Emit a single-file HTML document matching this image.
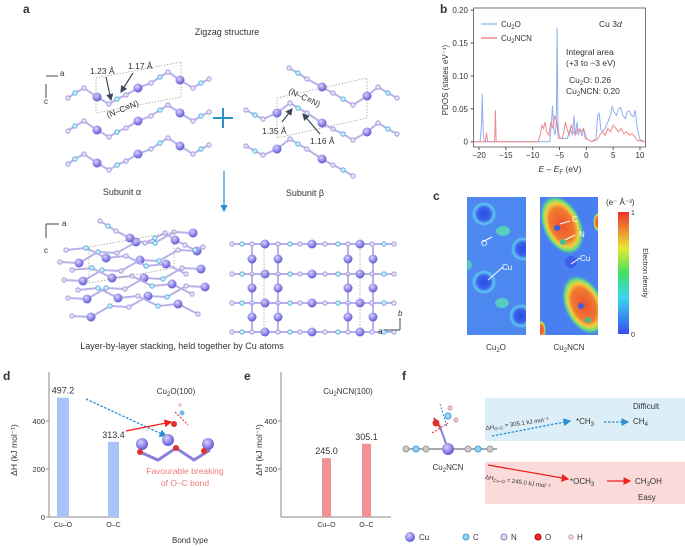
<!DOCTYPE html>
<html><head><meta charset="utf-8">
<style>
body{margin:0;background:#fff;font-family:"Liberation Sans",sans-serif;}
svg{display:block}
text{font-family:"Liberation Sans",sans-serif;fill:#333}
</style></head>
<body>
<svg id="fig" width="685" height="546" viewBox="0 0 685 546">
<defs>
<radialGradient id="cuG" cx="40%" cy="35%" r="60%"><stop offset="0" stop-color="#d8d4ff"/><stop offset="1" stop-color="#6a5fd8"/></radialGradient>
<radialGradient id="ring" cx="50%" cy="50%" r="50%"><stop offset="0" stop-color="#2a4be0"/><stop offset="0.5" stop-color="#3a62ec"/><stop offset="0.78" stop-color="#60c8f0"/><stop offset="1" stop-color="#4a88f0" stop-opacity="0"/></radialGradient>
<radialGradient id="blob" cx="50%" cy="50%" r="50%"><stop offset="0" stop-color="#f05030"/><stop offset="0.55" stop-color="#f07a30"/><stop offset="0.72" stop-color="#f0d040"/><stop offset="0.85" stop-color="#60e080"/><stop offset="1" stop-color="#4a80f0" stop-opacity="0"/></radialGradient>
<linearGradient id="cbar" x1="0" y1="1" x2="0" y2="0"><stop offset="0" stop-color="#3a4cf0"/><stop offset="0.3" stop-color="#38d8f0"/><stop offset="0.5" stop-color="#40e060"/><stop offset="0.7" stop-color="#e8e830"/><stop offset="1" stop-color="#f03030"/></linearGradient>
<clipPath id="c1"><rect x="467" y="197" width="59" height="138"/></clipPath>
<clipPath id="c2"><rect x="540" y="197" width="58" height="138"/></clipPath>
<marker id="ab" markerWidth="6" markerHeight="6" refX="5" refY="3" orient="auto"><path d="M0,0L6,3L0,6z" fill="#2b8fd0"/></marker>
<marker id="ar" markerWidth="6" markerHeight="6" refX="5" refY="3" orient="auto"><path d="M0,0L6,3L0,6z" fill="#f02020"/></marker>
<marker id="ak" markerWidth="6" markerHeight="6" refX="5" refY="3" orient="auto"><path d="M0,0L6,3L0,6z" fill="#3a4a5a"/></marker>
</defs>

<text x="23" y="13" font-weight="bold" font-size="12" fill="#000">a</text>
<text x="440" y="13" font-weight="bold" font-size="12" fill="#000">b</text>
<text x="433" y="200" font-weight="bold" font-size="12" fill="#000">c</text>
<text x="3" y="380" font-weight="bold" font-size="12" fill="#000">d</text>
<text x="244" y="380" font-weight="bold" font-size="12" fill="#000">e</text>
<text x="402" y="380" font-weight="bold" font-size="12" fill="#000">f</text>

<g>
<text x="227" y="35" font-size="9" text-anchor="middle">Zigzag structure</text>
<text x="122" y="195" font-size="9" text-anchor="middle">Subunit α</text>
<text x="305" y="196" font-size="9" text-anchor="middle">Subunit β</text>
<text x="182" y="349" font-size="9" text-anchor="middle">Layer-by-layer stacking, held together by Cu atoms</text>
<g stroke="#2b8fd0" stroke-width="2"><line x1="213" y1="118" x2="233" y2="118"/><line x1="223" y1="108" x2="223" y2="128"/></g>
<line x1="224" y1="171" x2="224" y2="211" stroke="#2b8fd0" stroke-width="1.2" marker-end="url(#ab)"/>
<g id="mol"></g>
<g stroke="#999" stroke-dasharray="1.5,1.5" fill="none" stroke-width="0.7">
<path d="M96,78L181,62L181,97L96,113Z"/><path d="M277,98L367,78L367,118L277,138Z"/>
<path d="M89,247L174,232L174,268L89,283Z"/><path d="M264,246V335M360,246V335"/>
</g>
<g font-size="8.5">
<text x="90" y="74">1.23 Å</text><text x="128" y="69">1.17 Å</text>
<text x="108" y="118" transform="rotate(-22 108 118)">(N–C≡N)</text>
<text x="288" y="93" transform="rotate(25 288 93)">(N–C≡N)</text>
<text x="262" y="134">1.35 Å</text><text x="310" y="144">1.16 Å</text>
<g stroke="#3a4a5a" stroke-width="1.2"><line x1="106" y1="77" x2="111" y2="100" marker-end="url(#ak)"/><line x1="133" y1="73" x2="121" y2="92" marker-end="url(#ak)"/><line x1="282" y1="122" x2="292" y2="109" marker-end="url(#ak)"/><line x1="320" y1="134" x2="303" y2="114" marker-end="url(#ak)"/></g>
</g>
<g stroke="#3a4a5a" stroke-width="1" fill="none">
<path d="M46,84V98M46,76H58" /><path d="M46,224V238M46,224H59"/><path d="M400,330H384M400,330V318"/>
</g>
<text x="60" y="76" font-size="8">a</text><text x="44" y="104" font-size="8">c</text>
<text x="62" y="226" font-size="8">a</text><text x="44" y="253" font-size="8">c</text>
<text x="378" y="334" font-size="8">a</text><text x="398" y="316" font-size="8" font-style="italic">b</text>
</g>

<g id="pdos">
<rect x="473.6" y="8" width="172" height="139" fill="none" stroke="#555" stroke-width="0.8"/>
<text x="448" y="80" font-size="8" text-anchor="middle" transform="rotate(-90 448 80)">PDOS (states eV⁻¹)</text>
<text x="560" y="172" font-size="8.5" text-anchor="middle"><tspan font-style="italic">E</tspan> – <tspan font-style="italic">E</tspan><tspan font-size="6" dy="2">F</tspan><tspan dy="-2"> (eV)</tspan></text>
<g id="pdosAxes"></g>
<g id="pdosLines"></g>
<g>
<line x1="481" y1="24" x2="497" y2="24" stroke="#8fb0f0" stroke-width="1.2"/><text x="501" y="27" font-size="8">Cu<tspan font-size="6" dy="2">2</tspan><tspan dy="-2">O</tspan></text>
<line x1="481" y1="38" x2="497" y2="38" stroke="#f08a8a" stroke-width="1.5"/><text x="501" y="41" font-size="8">Cu<tspan font-size="6" dy="2">2</tspan><tspan dy="-2">NCN</tspan></text>
</g>
<text x="599" y="27" font-size="8.5">Cu 3<tspan font-style="italic">d</tspan></text>
<text x="566" y="55" font-size="8.5">Integral area</text>
<text x="566" y="66" font-size="8.5">(+3 to −3 eV)</text>
<text x="569" y="83" font-size="8.5">Cu<tspan font-size="6" dy="2">2</tspan><tspan dy="-2">O: 0.26</tspan></text>
<text x="566" y="94" font-size="8.5">Cu<tspan font-size="6" dy="2">2</tspan><tspan dy="-2">NCN: 0.20</tspan></text>
</g>

<g>
<g clip-path="url(#c1)">
<rect x="467" y="197" width="59" height="138" fill="#4c88f0"/>
<circle cx="484" cy="214" r="13" fill="url(#ring)"/><circle cx="523" cy="249" r="13" fill="url(#ring)"/>
<circle cx="484" cy="282" r="13" fill="url(#ring)"/><circle cx="521" cy="316" r="13" fill="url(#ring)"/>
<ellipse cx="503" cy="231" rx="7" ry="5" fill="#5ae0b0" opacity="0.8"/><ellipse cx="502" cy="303" rx="7" ry="5" fill="#5ae0b0" opacity="0.8"/>
<ellipse cx="468" cy="265" rx="4" ry="5" fill="#5ae0b0" opacity="0.7"/>
</g>
<g clip-path="url(#c2)">
<rect x="540" y="197" width="58" height="138" fill="#4a7ff2"/>
<ellipse cx="562" cy="225" rx="20" ry="32" fill="url(#blob)" transform="rotate(-25 562 225)"/>
<ellipse cx="584" cy="305" rx="20" ry="32" fill="url(#blob)" transform="rotate(-25 584 305)"/>
<ellipse cx="541" cy="330" rx="5" ry="10" fill="url(#blob)"/>
<ellipse cx="598" cy="222" rx="5" ry="10" fill="url(#blob)"/>
<circle cx="557" cy="228" r="3" fill="#3a60e0"/><circle cx="563" cy="242" r="3" fill="#40c090"/>
<circle cx="581" cy="306" r="3" fill="#3a60e0"/><circle cx="588" cy="320" r="3" fill="#40c090"/>
<circle cx="571" cy="262" r="6" fill="#3d5ee8"/>
</g>
<g stroke="#fff" stroke-width="1" fill="none"><line x1="482" y1="242" x2="492" y2="237"/><line x1="488" y1="280" x2="503" y2="267"/><line x1="560" y1="224" x2="570" y2="221"/><line x1="565" y1="240" x2="575" y2="235"/><line x1="571" y1="264" x2="580" y2="258"/></g>
<g font-size="8" style="fill:#fff"><text x="481" y="246" fill="#fff" style="fill:#fff">O</text><text x="502" y="270" style="fill:#fff">Cu</text><text x="572" y="222" style="fill:#fff">C</text><text x="579" y="237" style="fill:#fff">N</text><text x="580" y="261" style="fill:#fff">Cu</text></g>
<rect x="618" y="212" width="11" height="122" fill="url(#cbar)"/>
<text x="631" y="215" font-size="7">1</text><text x="631" y="337" font-size="7">0</text>
<text x="606" y="205" font-size="8">(e⁻ Å⁻³)</text>
<text x="643" y="273" font-size="7" text-anchor="middle" transform="rotate(90 643 273)">Electron density</text>
<text x="496" y="350" font-size="8" text-anchor="middle">Cu<tspan font-size="6" dy="2">2</tspan><tspan dy="-2">O</tspan></text>
<text x="569" y="350" font-size="8" text-anchor="middle">Cu<tspan font-size="6" dy="2">2</tspan><tspan dy="-2">NCN</tspan></text>
</g>

<g id="barsD"></g>
<g id="barsE"></g>
<text x="17" y="450" font-size="8.5" text-anchor="middle" transform="rotate(-90 17 450)">ΔH (kJ mol⁻¹)</text>
<text x="262" y="450" font-size="8.5" text-anchor="middle" transform="rotate(-90 262 450)">ΔH (kJ mol⁻¹)</text>
<text x="190" y="543" font-size="8" text-anchor="middle">Bond type</text>
<text x="176" y="394" font-size="8" text-anchor="middle">Cu<tspan font-size="6" dy="2">2</tspan><tspan dy="-2">O(100)</tspan></text>
<text x="348" y="394" font-size="8" text-anchor="middle">Cu<tspan font-size="6" dy="2">2</tspan><tspan dy="-2">NCN(100)</tspan></text>
<line x1="86" y1="399" x2="166" y2="436" stroke="#2b8fd0" stroke-width="1.3" stroke-dasharray="2.5,1.5" marker-end="url(#ab)"/>
<line x1="126" y1="431" x2="171" y2="422" stroke="#f02020" stroke-width="1.3" marker-end="url(#ar)"/>
<g>
<path d="M140,452L158,460L176,448L194,460L210,450" stroke="#8a80d8" stroke-width="3" fill="none"/>
<circle cx="142" cy="444" r="6" fill="url(#cuG)"/><circle cx="168" cy="440" r="6" fill="url(#cuG)"/><circle cx="208" cy="444" r="6" fill="url(#cuG)"/>
<circle cx="176" cy="448" r="3" fill="#e03030"/><circle cx="204" cy="451" r="3" fill="#e03030"/><circle cx="140" cy="452" r="3" fill="#e03030"/>
<circle cx="174" cy="424" r="3" fill="#e03030"/><circle cx="182" cy="413" r="2.5" fill="#70b8e8"/><circle cx="180" cy="405" r="1.8" fill="#f0c0c0"/>
<line x1="175" y1="412" x2="188" y2="425" stroke="#f02020" stroke-dasharray="2,1.5"/>
</g>
<text x="185" y="474" font-size="8.5" style="fill:#f07a7a" text-anchor="middle">Favourable breaking</text>
<text x="185" y="486" font-size="8.5" style="fill:#f07a7a" text-anchor="middle">of O–C bond</text>

<g>
<rect x="485" y="398" width="200" height="43" fill="#dceef8"/>
<rect x="485" y="462" width="200" height="42" fill="#fbdada"/>
<g>
<line x1="405" y1="449" x2="497" y2="449" stroke="#aaa" stroke-width="2"/>
<line x1="448" y1="449" x2="440" y2="427" stroke="#8a80d8" stroke-width="2"/>
<line x1="440" y1="427" x2="434" y2="418" stroke="#e03030" stroke-width="2"/>
<circle cx="406" cy="449" r="3" fill="#ccc" stroke="#999"/><circle cx="416" cy="449" r="3" fill="#9fd0f0" stroke="#3aa0e0"/><circle cx="426" cy="449" r="3" fill="#ccc" stroke="#999"/>
<circle cx="448" cy="449" r="6" fill="url(#cuG)"/><circle cx="468" cy="449" r="3" fill="#ccc" stroke="#999"/><circle cx="478" cy="449" r="3" fill="#9fd0f0" stroke="#3aa0e0"/><circle cx="490" cy="449" r="3" fill="#ccc" stroke="#999"/>
<circle cx="436" cy="423" r="3.5" fill="#e03030"/><circle cx="448" cy="416" r="3" fill="#9fd0f0" stroke="#3aa0e0"/><circle cx="450" cy="408" r="2" fill="#f0d0d0" stroke="#c99"/><circle cx="456" cy="420" r="2" fill="#f0d0d0" stroke="#c99"/>
<line x1="432" y1="433" x2="448" y2="423" stroke="#f02020" stroke-dasharray="2,1.5"/><line x1="440" y1="404" x2="447" y2="427" stroke="#2b8fd0" stroke-dasharray="2,1.5"/>
</g>
<text x="448" y="470" font-size="8" text-anchor="middle">Cu<tspan font-size="6" dy="2">2</tspan><tspan dy="-2">NCN</tspan></text>
<text x="633" y="409" font-size="8">Difficult</text>
<text x="486" y="430" font-size="6" transform="rotate(-8 486 430)">ΔH<tspan font-size="4.5" dy="1.5">O–C</tspan><tspan dy="-1.5"> = 305.1 kJ mol⁻¹</tspan></text>
<line x1="492" y1="436" x2="570" y2="421" stroke="#2b8fd0" stroke-width="1.3" stroke-dasharray="2.5,1.5" marker-end="url(#ab)"/>
<text x="576" y="424" font-size="8">*CH<tspan font-size="6" dy="2">3</tspan></text>
<line x1="604" y1="422" x2="628" y2="422" stroke="#2b8fd0" stroke-width="1.3" stroke-dasharray="2.5,1.5" marker-end="url(#ab)"/>
<text x="633" y="424" font-size="8">CH<tspan font-size="6" dy="2">4</tspan></text>
<line x1="488" y1="465" x2="568" y2="479" stroke="#f02020" stroke-width="1.3" marker-end="url(#ar)"/>
<text x="485" y="479" font-size="6" transform="rotate(8 485 479)">ΔH<tspan font-size="4.5" dy="1.5">Cu–O</tspan><tspan dy="-1.5"> = 245.0 kJ mol⁻¹</tspan></text>
<text x="570" y="484" font-size="8">*OCH<tspan font-size="6" dy="2">3</tspan></text>
<line x1="607" y1="481" x2="630" y2="481" stroke="#f02020" stroke-width="1.3" marker-end="url(#ar)"/>
<text x="635" y="484" font-size="8">CH<tspan font-size="6" dy="2">3</tspan><tspan dy="-2">OH</tspan></text>
<text x="638" y="500" font-size="8">Easy</text>
<g font-size="8">
<circle cx="410" cy="537" r="5" fill="url(#cuG)"/><text x="419" y="540">Cu</text>
<circle cx="466" cy="537" r="3" fill="#9fd0f0" stroke="#3aa0e0"/><text x="473" y="540">C</text>
<circle cx="504" cy="537" r="3" fill="#ddd" stroke="#8a80d8"/><text x="511" y="540">N</text>
<circle cx="538" cy="537" r="3" fill="#e03030" stroke="#b00"/><text x="545" y="540">O</text>
<circle cx="571" cy="537" r="2.2" fill="#fde" stroke="#c99"/><text x="577" y="540">H</text>
</g>
</g>
</svg>
<script>
const xTicks=[-20,-15,-10,-5,0,5,10];
const yTicks=[0,0.05,0.10,0.15,0.20];
const yTickLabels=["0","0.05","0.10","0.15","0.20"];
const cu2oE=[-21,-19.8,-19.5,-19.4,-19.2,-19,-6.8,-6.5,-6.3,-6.1,-5.8,-5.6,-5.45,-5.3,-5.1,-4.8,-3.5,-3,-2.6,-2.3,-2.1,-1.7,-1.5,-1.2,-0.8,-0.5,0,1,1.8,2.1,2.4,2.7,3,3.5,4,4.5,4.8,5.2,5.6,6,6.4,6.8,7.3,7.6,8,8.4,8.8,9.1,9.5,10,11];
const cu2oV=[0,0,0.03,0.073,0.01,0,0,0.03,0.055,0.02,0.01,0.03,0.173,0.03,0.01,0.005,0.005,0.02,0.01,0.04,0.01,0.03,0.01,0.02,0.008,0.02,0.005,0,0.005,0.04,0.043,0.02,0.015,0.02,0.03,0.04,0.053,0.045,0.04,0.05,0.052,0.04,0.035,0.045,0.047,0.04,0.038,0.048,0.02,0.003,0];
const ncnE=[-21,-18.8,-18.6,-18.4,-17.1,-16.95,-16.8,-9,-8.6,-8.3,-8,-7.7,-7.4,-7,-6.6,-6.2,-5.9,-5.7,-5.5,-5.2,-4.5,-4.2,-3.9,-3.6,-3.2,-2.8,-2.4,-2,-1.6,-1,-0.5,-0.2,1,2,2.5,3,3.5,4,4.5,5,5.5,6,6.5,7,7.5,8,8.5,9,9.5,11];
const ncnV=[0,0,0.014,0,0,0.048,0,0,0.01,0.025,0.02,0.03,0.015,0.01,0.03,0.02,0.04,0.035,0.03,0.005,0.005,0.015,0.03,0.02,0.01,0.025,0.015,0.01,0.02,0.015,0.02,0.005,0,0.003,0.01,0.015,0.01,0.02,0.015,0.025,0.02,0.015,0.02,0.012,0.015,0.01,0.012,0.008,0.002,0];
const NS="http://www.w3.org/2000/svg";
function mk(tag,attrs,parent){const e=document.createElementNS(NS,tag);for(const k in attrs)e.setAttribute(k,attrs[k]);parent.appendChild(e);return e;}
const px=e=>479+(e+20)*161/30;
const py=v=>141.7-v*658;
const ax=document.getElementById('pdosAxes');
xTicks.forEach(t=>{const l=mk('line',{x1:px(t),x2:px(t),y1:147,y2:150,stroke:'#555'},ax);


const tx=mk('text',{x:px(t),y:158,'font-size':8,'text-anchor':'middle'},ax);tx.textContent=t<0?'−'+(-t):t;

});
yTicks.forEach((t,i)=>{mk('line',{x1:470.6,x2:473.6,y1:py(t),y2:py(t),stroke:'#555'},ax);
const tx=mk('text',{x:468,y:py(t)+3,'font-size':8,'text-anchor':'end'},ax);tx.textContent=yTickLabels[i];

});
const ln=document.getElementById('pdosLines');
function line(E,V,col,name){const d=E.map((e,i)=>(i?'L':'M')+px(e).toFixed(1)+','+py(V[i]).toFixed(1)).join('');
const p=mk('path',{d:d,fill:'none',stroke:col,'stroke-width':1},ln);

}
line(cu2oE,cu2oV,'#8fb0f0','cu2o-line');
line(ncnE,ncnV,'#f08a8a','cu2ncn-line');

const bondCats=["Cu–O","O–C"];
const dValues=[497.2,313.4];
const eValues=[245.0,305.1];
const hTicks=[0,200,400];
function bars(gid,x0,xs,vals,col,showZero){
const g=document.getElementById(gid);const by=v=>517-v*0.24;
mk('line',{x1:x0,x2:x0,y1:372,y2:517,stroke:'#888'},g);
mk('line',{x1:x0,x2:x0+(gid==='barsD'?70:110),y1:517,y2:517,stroke:'#888'},g);
hTicks.forEach(t=>{if(t===0&&!showZero)return;mk('line',{x1:x0-3,x2:x0,y1:by(t),y2:by(t),stroke:'#888'},g);
const tx=mk('text',{x:x0-4,y:by(t)+3,'font-size':7.5,'text-anchor':'end'},g);tx.textContent=t;});
vals.forEach((v,i)=>{const r=mk('rect',{x:xs[i][0],width:xs[i][1],y:by(v),height:517-by(v),fill:col},g);


const tv=mk('text',{x:xs[i][0]+xs[i][1]/2,y:by(v)-4,'font-size':9,'text-anchor':'middle'},g);tv.textContent=v.toFixed(1);
const tl=mk('text',{x:xs[i][0]+xs[i][1]/2,y:527,'font-size':7,'text-anchor':'middle'},g);tl.textContent=bondCats[i];});
}
bars('barsD',49,[[57,12],[108,11]],dValues,'#a9c4f7',true);
bars('barsE',281,[[322,9],[362,9]],eValues,'#f19191',false);

const mol=document.getElementById('mol');
const col={N:['#e4e2f8','#9a92d8'],C:['#d0eefa','#45a8dc']};
function chain(pts){
const d=pts.map((p,i)=>(i?'L':'M')+p[1]+','+p[2]).join('');
mk('path',{d:d,fill:'none',stroke:'#b8b2ea','stroke-width':2},mol);
pts.forEach(p=>{if(p[0]==='Cu')mk('circle',{cx:p[1],cy:p[2],r:4.5,fill:'url(#cuG)'},mol);
else mk('circle',{cx:p[1],cy:p[2],r:2.2,fill:col[p[0]][0],stroke:col[p[0]][1],'stroke-width':0.8},mol);});}
const alphaRow=[['N',68,98],['C',75,93],['N',84,88],['Cu',97,97],['N',109,104],['C',117,99],['N',126,95],['Cu',138,88],['N',151,83],['C',160,77],['N',168,72],['Cu',180,80],['N',193,88],['C',201,83],['N',209,79]];
[0,33,66].forEach(o=>chain(alphaRow.map(p=>[p[0],p[1],p[2]+o])));
const betaRow=[['N',246,110],['C',255,115],['N',263,119],['Cu',277,113],['N',290,103],['C',298,108],['N',307,113],['Cu',322,123],['N',333,129],['C',343,134],['N',353,140],['Cu',367,132],['N',378,123],['C',388,129],['N',397,134]];
chain([['N',289,68],['C',298,73],['N',307,79],['Cu',322,87],['N',333,93],['C',343,99],['N',353,105],['Cu',367,96],['N',378,87],['C',388,93],['N',397,98]]);
chain(betaRow);
chain(betaRow.map(p=>[p[0],p[1],p[2]+36]).slice(0,11));
for(let r=0;r<4;r++){const pts=[];for(let k=0;k<8;k++){const x=60+k*19+r*4,y=262+r*18-k*5+(k%2?6:0);pts.push([k%3===1?'Cu':(k%3===0?'N':'C'),x,y]);}chain(pts);}
for(let r=0;r<3;r++){const pts=[];for(let k=0;k<7;k++){const x=66+k*20+r*6,y=250+r*20+k*4-(k%2?6:0);pts.push([k%3===2?'Cu':(k%3===0?'N':'C'),x,y]);}chain(pts);}
chain([['N',100,221],['C',108,226],['N',116,231],['Cu',130,238],['N',145,243],['C',155,238],['N',165,233],['Cu',175,240],['N',185,245],['C',195,250],['N',203,247]]);
[244,274,303,332].forEach(y=>{chain([['N',232,y],['C',242,y],['N',252,y],['Cu',265,y],['N',278,y],['C',290,y],['N',300,y],['Cu',312,y],['N',325,y],['C',338,y],['N',348,y],['Cu',360,y],['N',372,y],['C',384,y],['N',394,y]]);});
[252,278,348,373].forEach(x=>{[259,288,317].forEach(y=>{mk('line',{x1:x,x2:x,y1:y-14,y2:y+14,stroke:'#b8b2ea','stroke-width':2},mol);mk('circle',{cx:x,cy:y,r:4.5,fill:'url(#cuG)'},mol);});});
</script>
</body></html>
